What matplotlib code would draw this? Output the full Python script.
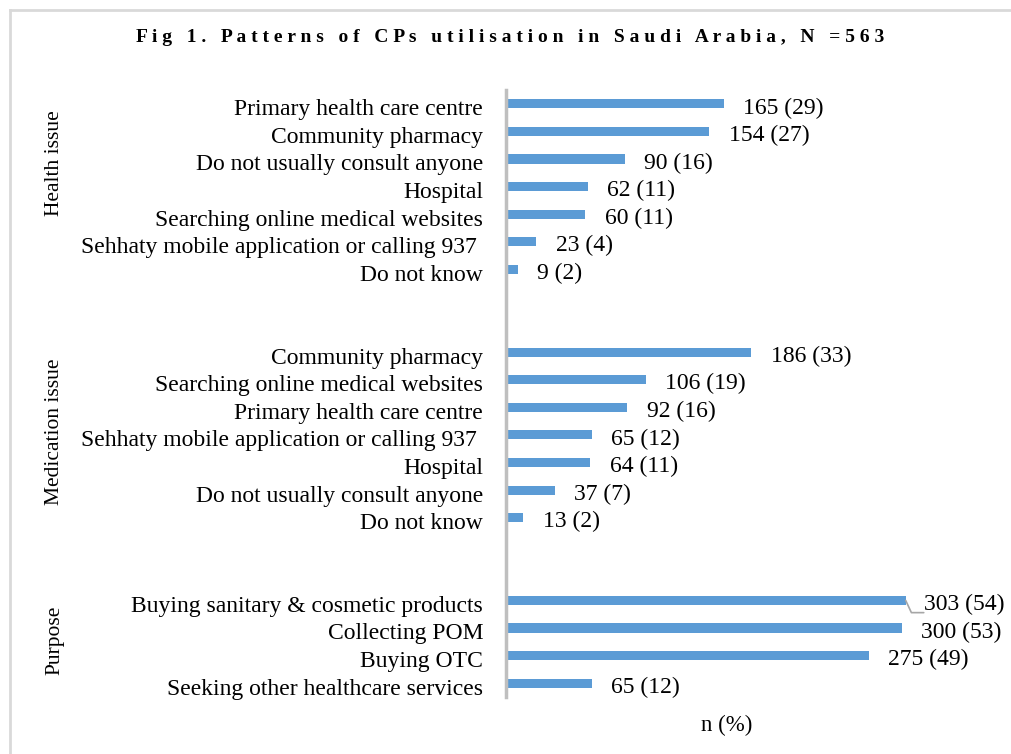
import matplotlib
matplotlib.use('Agg')
from matplotlib import pyplot as plt
from matplotlib.lines import Line2D
import matplotlib.transforms as mtransforms

plt.rcParams['font.family'] = ['Liberation Serif', 'DejaVu Serif']

health_labels = ['Primary health care centre', 'Community pharmacy',
                 'Do not usually consult anyone', 'Hospital',
                 'Searching online medical websites',
                 'Sehhaty mobile application or calling 937 ', 'Do not know']
health_n = [165, 154, 90, 62, 60, 23, 9]
health_pct = [29, 27, 16, 11, 11, 4, 2]

med_labels = ['Community pharmacy', 'Searching online medical websites',
              'Primary health care centre',
              'Sehhaty mobile application or calling 937 ', 'Hospital',
              'Do not usually consult anyone', 'Do not know']
med_n = [186, 106, 92, 65, 64, 37, 13]
med_pct = [33, 19, 16, 12, 11, 7, 2]

purpose_labels = ['Buying sanitary & cosmetic products', 'Collecting POM',
                  'Buying OTC', 'Seeking other healthcare services']
purpose_n = [303, 300, 275, 65]
purpose_pct = [54, 53, 49, 12]

groups = ['Health issue', 'Medication issue', 'Purpose']

# build rows with two blank slots between groups
labels, values, pcts, pos = [], [], [], []
row = 0
for lab, n, p in [(health_labels, health_n, health_pct),
                  (med_labels, med_n, med_pct),
                  (purpose_labels, purpose_n, purpose_pct)]:
    for i in range(len(lab)):
        labels.append(lab[i])
        values.append(n[i])
        pcts.append(p[i])
        pos.append(row)
        row += 1
    row += 2

FS = 17

fig = plt.figure(figsize=(10.12, 7.54), dpi=100)
ax = fig.add_axes([506 / 1012, 1 - 697 / 754, 434 / 1012, 607 / 754])

ax.barh(pos, values, height=0.33, color='#5B9BD5')
ax.set_ylim(21.5, -0.5)
ax.set_xlim(0, 329)
ax.set_yticks(pos)
ax.set_yticklabels(labels, fontsize=FS)
ax.tick_params(axis='y', length=0, pad=16.5)
ax.set_xticks([])
for s in ['top', 'right', 'bottom']:
    ax.spines[s].set_visible(False)
ax.spines['left'].set_color('#BFBFBF')
ax.spines['left'].set_linewidth(2.5)

# nudge the category labels down a little
shift = mtransforms.ScaledTranslation(0, -2.5 / 72, fig.dpi_scale_trans)
for t in ax.get_yticklabels():
    t.set_transform(t.get_transform() + shift)

for y, v, p in zip(pos, values, pcts):
    txt = '%d (%d)' % (v, p)
    if v == 303:
        ax.annotate(txt, xy=(v, y), xytext=(13, -3), textcoords='offset points',
                    fontsize=FS, va='center', ha='left',
                    arrowprops=dict(arrowstyle='-', color='#A6A6A6', lw=1.2,
                                    relpos=(0, 0.12), patchA=None,
                                    connectionstyle='angle,angleA=0,angleB=115,rad=0',
                                    shrinkA=0, shrinkB=0))
    else:
        ax.annotate(txt, xy=(v, y), xytext=(14, -3), textcoords='offset points',
                    fontsize=FS, va='center', ha='left')

# group labels
group_y = [163, 432, 640]
for g, gy in zip(groups, group_y):
    fig.text(55 / 1012, 1 - gy / 754, g, rotation=90, fontsize=15.5,
             ha='center', va='center')

fig.text(727 / 1012, 1 - 725 / 754, 'n (%)', fontsize=16.5, ha='center', va='center')

title = 'Fig 1. Patterns of CPs utilisation in Saudi Arabia, N =563'
fig.text(510 / 1012, 1 - 38 / 754, ' '.join(title), fontsize=14,
         fontweight='bold', ha='center', va='center')

# outer frame (top and left edges visible)
fig.add_artist(Line2D([10 / 1012, 10 / 1012], [0, 1 - 10 / 754],
                      transform=fig.transFigure, color='#D9D9D9', lw=2))
fig.add_artist(Line2D([10 / 1012, 1], [1 - 10 / 754, 1 - 10 / 754],
                      transform=fig.transFigure, color='#D9D9D9', lw=2))

fig.savefig('out.png', dpi=100)
